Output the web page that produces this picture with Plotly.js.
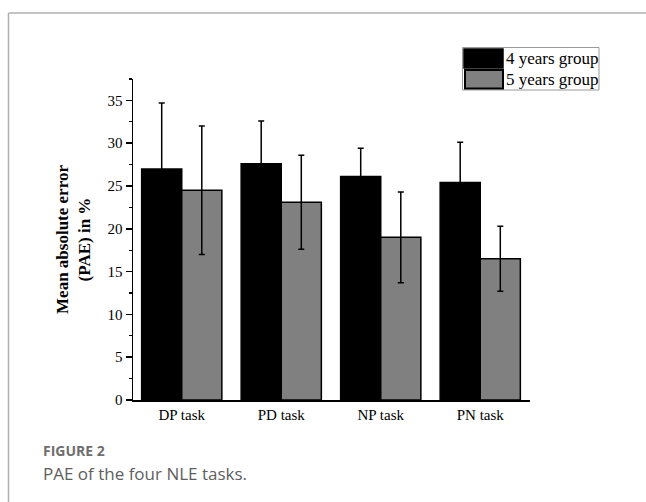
<!DOCTYPE html>
<html>
<head>
<meta charset="utf-8">
<script src="https://cdn.plot.ly/plotly-3.0.1.min.js"></script>
<style>
  html, body { margin: 0; padding: 0; background: #fff; }
  #chart { width: 646px; height: 502px; }
</style>
</head>
<body>
<div id="chart"></div>
<script>
// ---- data ----
const categories = ['DP task', 'PD task', 'NP task', 'PN task'];
const group4Name = '4 years group';
const group5Name = '5 years group';
const group4Values = [27.0, 27.6, 26.1, 25.4];
const group4Errors = [7.7, 5.0, 3.3, 4.7];
const group5Values = [24.5, 23.1, 19.0, 16.5];
const group5Errors = [7.5, 5.5, 5.3, 3.8];
const yTickValues = [0, 5, 10, 15, 20, 25, 30, 35];

// ---- layout geometry (pixels) ----
const W = 646, H = 502;
const L = 133, R = 530, T = 79, B = 400;
const px = x => (x - L) / (R - L);
const py = y => (B - y) / (B - T);

const serif = 'Liberation Serif, Times New Roman, serif';

const traces = [
  {
    type: 'bar', name: group4Name, x: categories, y: group4Values,
    marker: { color: '#000000', line: { color: '#000000', width: 1.5 } },
    error_y: { type: 'data', array: group4Errors, visible: true, color: '#000000', thickness: 1.5, width: 3 },
    showlegend: false, hoverinfo: 'x+y'
  },
  {
    type: 'bar', name: group5Name, x: categories, y: group5Values,
    marker: { color: '#808080', line: { color: '#000000', width: 1.5 } },
    error_y: { type: 'data', array: group5Errors, visible: true, color: '#000000', thickness: 1.5, width: 3 },
    showlegend: false, hoverinfo: 'x+y'
  }
];

const shapes = [
  // card border
  { type: 'line', xref: 'paper', yref: 'paper', x0: px(8.5), x1: px(8.5), y0: py(13), y1: py(520), line: { color: '#b0b0b0', width: 1.5 } },
  { type: 'line', xref: 'paper', yref: 'paper', x0: px(8.5), x1: px(660), y0: py(13), y1: py(13), line: { color: '#b0b0b0', width: 1.5 } },
  // legend box
  { type: 'rect', xref: 'paper', yref: 'paper', x0: px(462.5), x1: px(599), y0: py(47.5), y1: py(90), line: { color: '#9a9a9a', width: 1 }, fillcolor: 'rgba(0,0,0,0)' },
  // legend swatches
  { type: 'rect', xref: 'paper', yref: 'paper', x0: px(464), x1: px(503), y0: py(49), y1: py(68), line: { color: '#000000', width: 1.5 }, fillcolor: '#000000' },
  { type: 'rect', xref: 'paper', yref: 'paper', x0: px(465), x1: px(503), y0: py(70), y1: py(88.5), line: { color: '#000000', width: 2 }, fillcolor: '#808080' }
];

const annotations = [
  { xref: 'paper', yref: 'paper', x: px(504), y: py(58.5), xanchor: 'left', yanchor: 'middle', showarrow: false,
    text: group4Name, font: { family: serif, size: 17, color: '#000' } },
  { xref: 'paper', yref: 'paper', x: px(504), y: py(79), xanchor: 'left', yanchor: 'middle', showarrow: false,
    text: group5Name, font: { family: serif, size: 17, color: '#000' } },
  { xref: 'paper', yref: 'paper', x: px(41), y: py(451), xanchor: 'left', yanchor: 'middle', showarrow: false,
    text: '<b>FIGURE 2</b>', font: { family: 'Open Sans, Noto Sans, sans-serif', size: 14, color: '#6e6e6e' } },
  { xref: 'paper', yref: 'paper', x: px(41), y: py(473), xanchor: 'left', yanchor: 'middle', showarrow: false,
    text: 'PAE of the four NLE tasks.', font: { family: 'Open Sans, Noto Sans, sans-serif', size: 17, color: '#5e5e5e' } }
];

const layout = {
  width: W, height: H,
  margin: { l: L, r: W - R, t: T, b: H - B, pad: 0 },
  paper_bgcolor: '#ffffff', plot_bgcolor: '#ffffff',
  font: { family: serif, color: '#000000' },
  barmode: 'group', bargap: 0.194, bargroupgap: 0,
  showlegend: false,
  xaxis: {
    type: 'category', range: [-0.49, 3.5], fixedrange: true,
    showline: true, linecolor: '#000000', linewidth: 1.5,
    ticks: '', showgrid: false, zeroline: false,
    tickfont: { family: serif, size: 15, color: '#000' },
    automargin: false
  },
  yaxis: {
    range: [0, 37.5], fixedrange: true,
    tickvals: yTickValues, ticktext: yTickValues.map(String),
    showline: true, linecolor: '#000000', linewidth: 1.5,
    ticks: 'outside', ticklen: 6, tickwidth: 1.5, tickcolor: '#000',
    minor: { ticks: 'outside', ticklen: 3, tickwidth: 1.2, tickcolor: '#000', dtick: 2.5, tick0: 0, showgrid: false },
    showgrid: false, zeroline: false,
    tickfont: { family: serif, size: 15, color: '#000' },
    title: { text: '<b>Mean absolute error</b><br><b>(PAE) in %</b>', font: { family: serif, size: 17, color: '#000' }, standoff: 12 },
    automargin: false
  },
  shapes: shapes,
  annotations: annotations
};

Plotly.newPlot('chart', traces, layout, { displayModeBar: false, staticPlot: true });
</script>
</body>
</html>
